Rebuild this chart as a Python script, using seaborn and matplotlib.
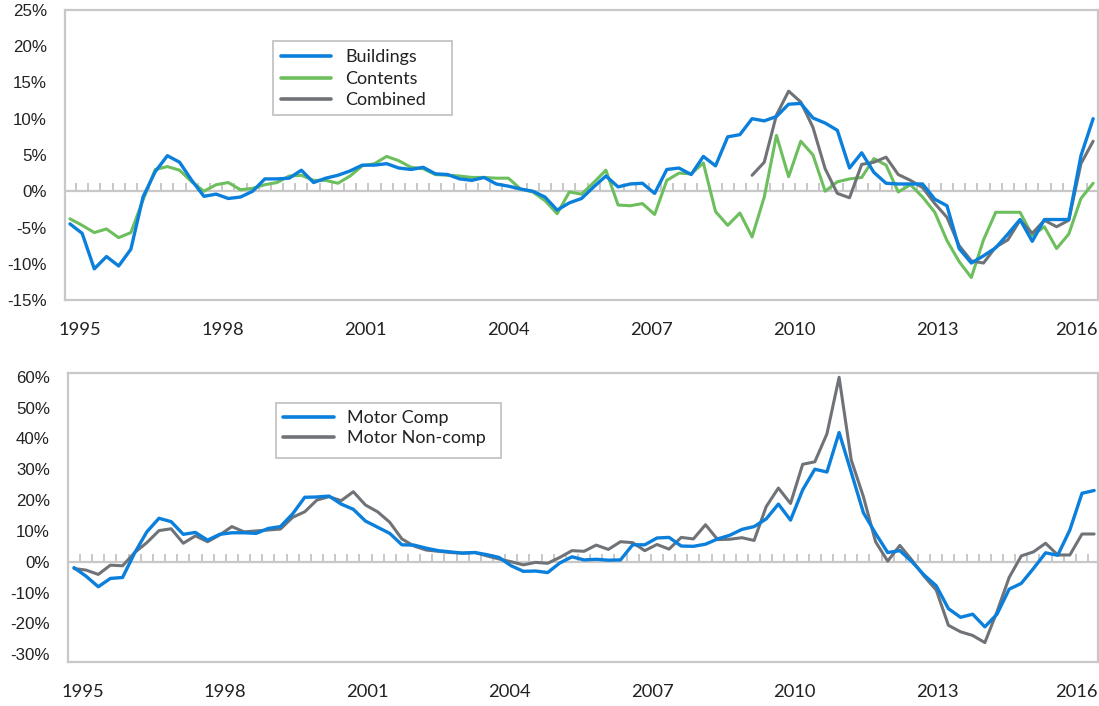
import matplotlib
matplotlib.use("Agg")
import matplotlib.pyplot as plt
import seaborn as sns
import pandas as pd
import numpy as np
from matplotlib.ticker import FuncFormatter
from matplotlib.patches import Rectangle

# quarterly series, 85 quarters (index 0..84)
buildings = [-4.5, -5.8, -10.7, -9.0, -10.3, -8.0, -0.8, 2.7, 4.9, 4.0,
             1.5, -0.7, -0.4, -1.0, -0.8, 0.0, 1.7, 1.7, 1.8, 2.9,
             1.2, 1.8, 2.2, 2.8, 3.6, 3.6, 3.8, 3.2, 3.0, 3.3,
             2.4, 2.3, 1.7, 1.5, 1.9, 1.0, 0.7, 0.3, 0.0, -0.8,
             -2.6, -1.6, -1.0, 0.6, 2.1, 0.6, 1.0, 1.1, -0.3, 3.0,
             3.2, 2.3, 4.8, 3.5, 7.5, 7.8, 10.0, 9.7, 10.3, 12.0,
             12.1, 10.1, 9.4, 8.4, 3.2, 5.3, 2.6, 1.1, 1.0, 1.0,
             1.0, -1.1, -2.0, -7.9, -9.9, -8.9, -7.8, -5.9, -3.9, -6.9,
             -3.9, -3.9, -3.9, 4.9, 10.0]
contents = [-3.8, -4.7, -5.7, -5.2, -6.4, -5.7, -1.2, 3.0, 3.4, 2.9,
            1.3, 0.0, 0.9, 1.2, 0.2, 0.4, 0.9, 1.2, 2.1, 2.2,
            1.5, 1.5, 1.1, 2.1, 3.5, 3.8, 4.8, 4.2, 3.3, 3.1,
            2.3, 2.2, 2.1, 1.9, 1.9, 1.8, 1.8, 0.3, -0.1, -1.3,
            -3.1, -0.1, -0.4, 1.2, 2.9, -1.9, -2.0, -1.7, -3.2, 1.5,
            2.5, 2.4, 3.9, -2.8, -4.7, -3.0, -6.3, -0.8, 7.7, 2.0,
            6.9, 5.0, 0.0, 1.3, 1.7, 1.9, 4.5, 3.6, -0.1, 0.9,
            -0.8, -2.9, -6.8, -9.7, -11.9, -6.7, -2.9, -2.9, -2.9, -6.1,
            -4.9, -7.9, -5.9, -1.0, 1.1]
combined = [np.nan] * 56 + [
            2.2, 4.0, 10.5, 13.8, 12.3, 8.8, 3.1, -0.3, -0.9, 3.7,
            4.0, 4.7, 2.3, 1.5, 0.5, -1.7, -3.6, -7.5, -9.6, -9.9,
            -7.7, -6.7, -4.0, -5.8, -4.0, -4.9, -4.0, 3.8, 6.9]
motor_comp = [-1.9, -4.7, -8.1, -5.4, -5.1, 2.9, 9.7, 14.1, 13.0, 8.9,
              9.5, 7.0, 8.9, 9.4, 9.4, 9.2, 10.8, 11.4, 15.5, 20.9,
              21.0, 21.3, 18.7, 17.0, 13.2, 11.2, 9.2, 5.5, 5.4, 4.4,
              3.6, 3.2, 2.8, 3.0, 2.3, 1.4, -1.3, -3.1, -3.0, -3.5,
              -0.4, 1.6, 0.6, 0.8, 0.5, 0.6, 5.5, 5.5, 7.7, 7.9,
              5.1, 5.0, 5.7, 7.4, 8.6, 10.5, 11.4, 13.9, 18.7, 13.5,
              23.3, 30.0, 29.1, 41.9, 29.0, 15.9, 9.2, 3.0, 3.6, 0.0,
              -4.3, -7.8, -15.2, -18.0, -17.0, -21.1, -17.0, -8.9, -7.0, -2.2,
              2.9, 2.1, 10.3, 22.2, 23.1]
motor_noncomp = [-2.2, -2.7, -4.1, -1.1, -1.3, 3.0, 6.2, 10.1, 10.7, 6.0,
                 8.4, 6.5, 8.7, 11.4, 9.7, 10.0, 10.3, 10.6, 14.4, 16.2,
                 20.0, 21.1, 19.8, 22.7, 18.4, 16.2, 12.8, 7.4, 5.1, 3.8,
                 3.4, 3.0, 2.8, 3.0, 1.9, 0.9, 0.0, -1.0, -0.2, -0.5,
                 1.4, 3.6, 3.4, 5.4, 4.0, 6.5, 6.2, 3.6, 5.6, 4.1,
                 7.9, 7.4, 12.0, 7.2, 7.3, 7.8, 6.9, 17.9, 23.9, 18.9,
                 31.6, 32.4, 41.5, 59.8, 33.0, 21.1, 6.5, 0.2, 5.3, 0.5,
                 -4.7, -9.2, -20.6, -22.7, -23.9, -26.2, -16.2, -5.1, 1.9, 3.2,
                 6.0, 2.2, 2.2, 9.0, 9.0]
year_labels = ["1995", "1998", "2001", "2004", "2007", "2010", "2013", "2016"]

quarter = np.arange(len(buildings))
df = pd.DataFrame({"q": quarter, "Buildings": buildings, "Contents": contents,
                   "Combined": combined, "Motor Comp": motor_comp,
                   "Motor Non-comp": motor_noncomp})

BLUE = "#0a7fdc"
GREEN = "#6cbf5c"
GREY = "#6f7377"
FRAME = "#c8c8c8"
W, H = 1099, 706

sns.set_theme(style="white")
plt.rcParams["font.family"] = ["Lato", "DejaVu Sans"]
plt.rcParams["text.color"] = "#222222"

fig = plt.figure(figsize=(10.99, 7.06), dpi=100)
ax1 = fig.add_axes([0.0591, 0.575, 0.940, 0.411])
ax2 = fig.add_axes([0.0619, 0.0623, 0.937, 0.4094])


def style_axis(ax, ylim, yticks, xlim, xtick_pos, tick_h):
    ax.set_xlim(*xlim)
    ax.set_ylim(*ylim)
    ax.set_yticks(yticks)
    ax.yaxis.set_major_formatter(FuncFormatter(lambda v, p: f"{v:.0f}%"))
    # last year label sits flush with the right frame, as in the original
    pos = list(xtick_pos[:-1]) + [xlim[1] - 0.05]
    ax.set_xticks(pos)
    ax.set_xticklabels(year_labels)
    ax.get_xticklabels()[-1].set_horizontalalignment("right")
    ax.set_xlabel("")
    ax.set_ylabel("")
    for s in ax.spines.values():
        s.set_color(FRAME)
        s.set_linewidth(1.6)
    ax.tick_params(axis="both", length=0, colors="#222222")
    ax.tick_params(axis="x", pad=16, labelsize=13.2)
    ax.tick_params(axis="y", pad=13, labelsize=12.2)
    for t in ax.get_yticklabels():
        t.set_fontfamily(["Liberation Sans", "DejaVu Sans"])
    # zero line with small quarterly ticks above it
    ax.axhline(0, color=FRAME, lw=1.6, zorder=1)
    ax.vlines(quarter[:-1] + 0.5, 0, tick_h, color=FRAME, lw=1.4, zorder=1)


def legend_box(x0, y0, x1, y1):
    fig.add_artist(Rectangle((x0 / W, 1 - y1 / H), (x1 - x0) / W, (y1 - y0) / H,
                             transform=fig.transFigure, facecolor="white",
                             edgecolor=FRAME, lw=1.4, zorder=6))


# top panel
sns.lineplot(data=df, x="q", y="Contents", ax=ax1, color=GREEN, lw=2.2, zorder=3)
sns.lineplot(data=df, x="q", y="Combined", ax=ax1, color=GREY, lw=2.2, zorder=4)
sns.lineplot(data=df, x="q", y="Buildings", ax=ax1, color=BLUE, lw=2.4, zorder=5)
style_axis(ax1, (-15, 25), np.arange(-15, 26, 5), (-0.41, 84.4),
           np.linspace(0.82, 82.9, 8), 1.1)
legend_box(273, 41, 452, 115)
h1 = [plt.Line2D([], [], color=c, lw=2.6) for c in (BLUE, GREEN, GREY)]
leg1 = fig.legend(h1, ["Buildings", "Contents", "Combined"], loc="upper left",
                  bbox_to_anchor=(0.2481, 0.9415), borderaxespad=0,
                  frameon=False, fontsize=13, handlelength=2.8,
                  handletextpad=0.75, labelspacing=0.3, borderpad=0.45)
leg1.set_zorder(7)

# bottom panel
sns.lineplot(data=df, x="q", y="Motor Non-comp", ax=ax2, color=GREY, lw=2.2, zorder=4)
sns.lineplot(data=df, x="q", y="Motor Comp", ax=ax2, color=BLUE, lw=2.4, zorder=5)
style_axis(ax2, (-32.5, 61.2), np.arange(-30, 61, 10), (-0.49, 84.3),
           np.linspace(0.7, 82.8, 8), 2.6)
legend_box(276, 403, 501, 458)
h2 = [plt.Line2D([], [], color=c, lw=2.6) for c in (BLUE, GREY)]
leg2 = fig.legend(h2, ["Motor Comp", "Motor Non-comp"], loc="upper left",
                  bbox_to_anchor=(0.2509, 0.4292), borderaxespad=0,
                  frameon=False, fontsize=13, handlelength=2.8,
                  handletextpad=0.75, labelspacing=0.22, borderpad=0.4)
leg2.set_zorder(7)

fig.savefig("out.png", dpi=100)
